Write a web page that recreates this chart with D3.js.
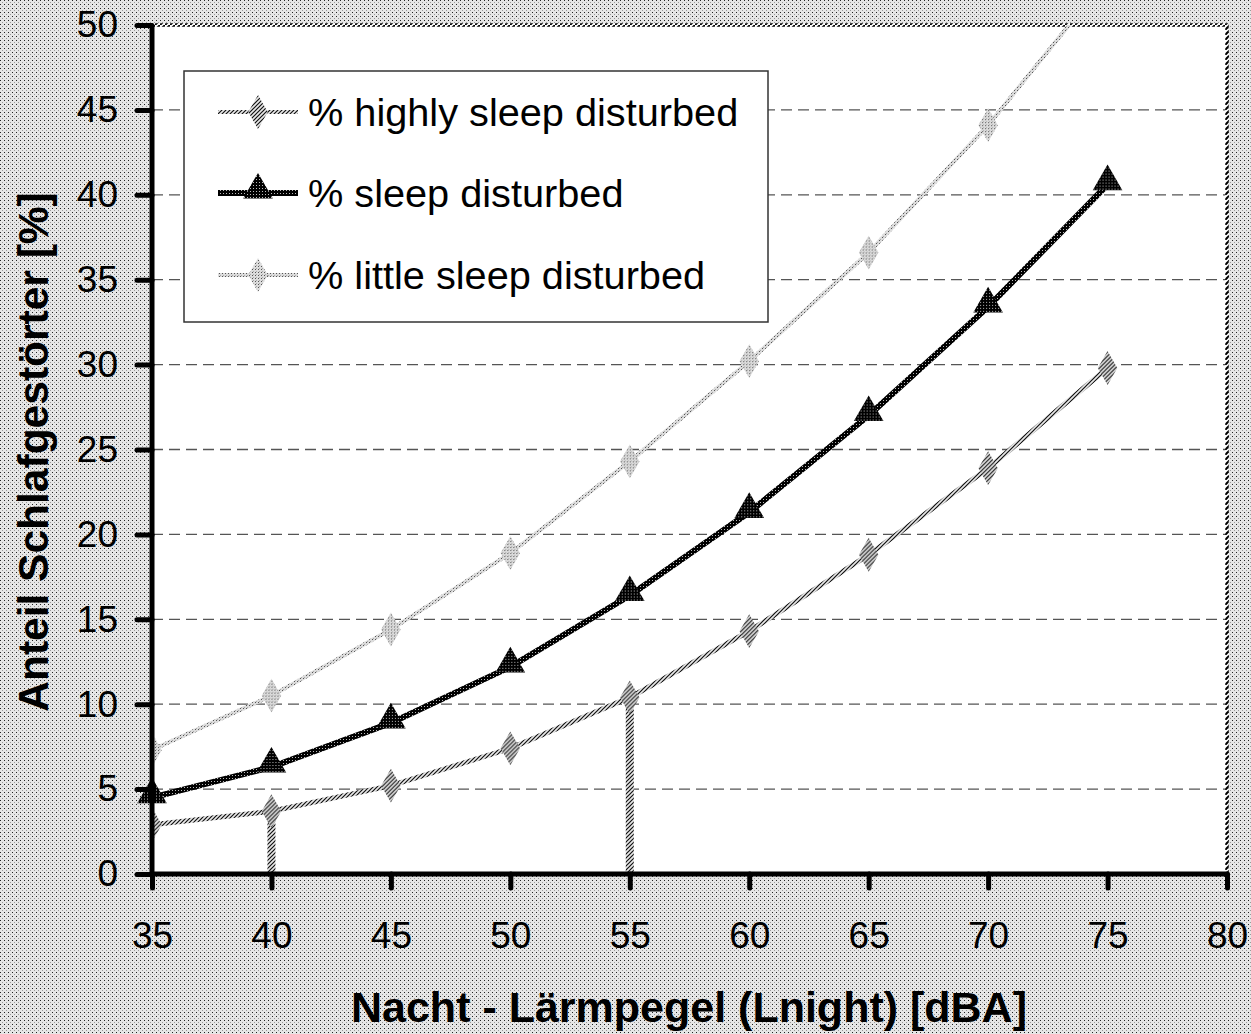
<!DOCTYPE html>
<html><head><meta charset="utf-8">
<script src="https://cdn.jsdelivr.net/npm/d3@7"></script>
<style>body{margin:0;background:#fff}svg{display:block}</style>
</head><body>
<svg id="chart" width="1251" height="1034"></svg>
<script>
const xValues = [35, 40, 45, 50, 55, 60, 65, 70, 75];
const highlyDisturbed = [2.9, 3.7, 5.2, 7.4, 10.4, 14.3, 18.8, 23.9, 29.8];
const sleepDisturbed = [4.5, 6.3, 8.9, 12.2, 16.4, 21.3, 27.0, 33.4, 40.6];
const littleDisturbed = [7.3, 10.5, 14.4, 18.9, 24.3, 30.2, 36.6, 44.1, 52.8];
const dropLinesAt = [40, 55];
const xTicks = [35, 40, 45, 50, 55, 60, 65, 70, 75, 80];
const yTicks = [0, 5, 10, 15, 20, 25, 30, 35, 40, 45, 50];
const seriesNames = ["% highly sleep disturbed", "% sleep disturbed", "% little sleep disturbed"];
const xTitle = "Nacht - Lärmpegel (Lnight) [dBA]";
const yTitle = "Anteil Schlafgestörter [%]";

(function () {
const svg = d3.select("#chart");
const FONT = "Liberation Sans, Arial, sans-serif";
const pL = 152, pR = 1227, pT = 25, pB = 874;
const x = d3.scaleLinear().domain([35, 80]).range([pL, pR]);
const y = d3.scaleLinear().domain([0, 50]).range([pB, pT]);

const defs = svg.append("defs");
const bg = defs.append("pattern").attr("id", "bg").attr("patternUnits", "userSpaceOnUse").attr("width", 4).attr("height", 4);
bg.append("rect").attr("width", 4).attr("height", 4).attr("fill", "#e6e6e6");
bg.append("rect").attr("x", 0).attr("y", 0).attr("width", 1).attr("height", 1).attr("fill", "#222");
bg.append("rect").attr("x", 2).attr("y", 2).attr("width", 1).attr("height", 1).attr("fill", "#999");
const hat = defs.append("pattern").attr("id", "hatch").attr("patternUnits", "userSpaceOnUse").attr("width", 4).attr("height", 4);
hat.append("rect").attr("width", 4).attr("height", 4).attr("fill", "#e8e8e8");
hat.append("path").attr("d", "M-1,1 L1,-1 M0,4 L4,0 M3,5 L5,3").attr("stroke", "#111").attr("stroke-width", 1.2);
const dk = defs.append("pattern").attr("id", "dark").attr("patternUnits", "userSpaceOnUse").attr("width", 3).attr("height", 3);
dk.append("rect").attr("width", 3).attr("height", 3).attr("fill", "#000");
dk.append("rect").attr("x", 1).attr("y", 1).attr("width", 1).attr("height", 1).attr("fill", "#bbb");
const lt = defs.append("pattern").attr("id", "light").attr("patternUnits", "userSpaceOnUse").attr("width", 3).attr("height", 3);
lt.append("rect").attr("width", 3).attr("height", 3).attr("fill", "#dcdcdc");
lt.append("rect").attr("x", 0).attr("y", 0).attr("width", 1).attr("height", 1).attr("fill", "#555");
lt.append("rect").attr("x", 1).attr("y", 2).attr("width", 1).attr("height", 1).attr("fill", "#aaa");
const bh = defs.append("pattern").attr("id", "bhatch").attr("patternUnits", "userSpaceOnUse").attr("width", 5).attr("height", 5);
bh.append("rect").attr("width", 5).attr("height", 5).attr("fill", "#fff");
bh.append("path").attr("d", "M0,5 L5,0").attr("stroke", "#000").attr("stroke-width", 2);

defs.append("clipPath").attr("id", "clip").append("rect")
  .attr("x", pL).attr("y", pT).attr("width", pR - pL).attr("height", pB - pT);

svg.append("rect").attr("width", 1251).attr("height", 1034).attr("fill", "url(#bg)");
svg.append("rect").attr("x", pL).attr("y", pT).attr("width", pR - pL).attr("height", pB - pT).attr("fill", "#fff");

svg.append("g").selectAll("line").data(yTicks.filter(t => t > 0 && t < 50)).join("line")
  .attr("x1", pL).attr("x2", pR).attr("y1", d => y(d)).attr("y2", d => y(d))
  .attr("stroke", "#555").attr("stroke-width", 1.3).attr("stroke-dasharray", "11,6");

svg.append("path").attr("d", `M${pL},${pT} L${pR},${pT} L${pR},${pB}`)
  .attr("fill", "none").attr("stroke", "url(#bhatch)").attr("stroke-width", 3.5);

const line = d3.line().x((d, i) => x(xValues[i])).y(d => y(d));
const plot = svg.append("g").attr("clip-path", "url(#clip)");

plot.selectAll("line.drop").data(dropLinesAt).join("line").attr("class", "drop")
  .attr("x1", d => x(d)).attr("x2", d => x(d))
  .attr("y1", d => y(highlyDisturbed[xValues.indexOf(d)])).attr("y2", y(0))
  .attr("stroke", "url(#hatch)").attr("stroke-width", 8);

const diamond = d3.symbol().type(d3.symbolDiamond).size(330);
const triangle = d3.symbol().type(d3.symbolTriangle).size(380);

plot.append("path").datum(littleDisturbed).attr("d", line).attr("fill", "none")
  .attr("stroke", "url(#light)").attr("stroke-width", 4);
plot.selectAll("path.ml").data(littleDisturbed).join("path").attr("class", "ml")
  .attr("transform", (d, i) => `translate(${x(xValues[i])},${y(d)})`).attr("d", diamond).attr("fill", "url(#light)");
plot.append("path").datum(highlyDisturbed).attr("d", line).attr("fill", "none")
  .attr("stroke", "url(#hatch)").attr("stroke-width", 5);
plot.selectAll("path.mh").data(highlyDisturbed).join("path").attr("class", "mh")
  .attr("transform", (d, i) => `translate(${x(xValues[i])},${y(d)})`).attr("d", diamond).attr("fill", "url(#hatch)");
plot.append("path").datum(sleepDisturbed).attr("d", line).attr("fill", "none")
  .attr("stroke", "url(#dark)").attr("stroke-width", 6);

svg.append("g").selectAll("path.ms").data(sleepDisturbed).join("path").attr("class", "ms")
  .attr("transform", (d, i) => `translate(${x(xValues[i])},${y(d) - 3})`).attr("d", triangle).attr("fill", "url(#dark)");

const yAxis = d3.axisLeft(y).tickValues(yTicks).tickSize(15).tickPadding(19);
const gy = svg.append("g").attr("transform", `translate(${pL},0)`).call(yAxis);
const xAxis = d3.axisBottom(x).tickValues(xTicks).tickSize(14).tickPadding(34);
const gx = svg.append("g").attr("transform", `translate(0,${pB})`).call(xAxis);
[gy, gx].forEach(g => {
  g.attr("font-size", 37).attr("font-family", FONT);
  g.select(".domain").attr("stroke", "#000").attr("stroke-width", 5);
  g.selectAll(".tick line").attr("stroke", "#000").attr("stroke-width", 5).attr("stroke-linecap", "round");
  g.selectAll(".tick text").attr("fill", "#000");
});
gy.select(".domain").attr("d", `M0,${y(50)}V${y(0)}`);
gx.select(".domain").attr("d", `M${pL},0H${pR}`);

svg.append("text").attr("x", 689).attr("y", 1022).attr("text-anchor", "middle")
  .attr("font-family", FONT).attr("font-weight", "bold").attr("font-size", 43).text(xTitle);
svg.append("text").attr("transform", `translate(48,452) rotate(-90)`).attr("text-anchor", "middle")
  .attr("font-family", FONT).attr("font-weight", "bold").attr("font-size", 42.5).text(yTitle);

const lg = svg.append("g");
lg.append("rect").attr("x", 184).attr("y", 71).attr("width", 584).attr("height", 251)
  .attr("fill", "#fff").attr("stroke", "#333").attr("stroke-width", 1.5);
const legendY = [112, 193, 275];
const lStroke = ["url(#hatch)", "url(#dark)", "url(#light)"];
const lWidth = [4, 6, 4];
seriesNames.forEach((name, i) => {
  const ly = legendY[i];
  lg.append("line").attr("x1", 218).attr("x2", 298).attr("y1", ly).attr("y2", ly)
    .attr("stroke", lStroke[i]).attr("stroke-width", lWidth[i]);
  lg.append("path").attr("transform", `translate(258,${i === 1 ? ly - 3 : ly})`)
    .attr("d", i === 1 ? triangle() : diamond()).attr("fill", lStroke[i]);
  lg.append("text").attr("x", 308).attr("y", ly + 14).attr("font-family", FONT)
    .attr("font-size", 39.7).attr("fill", "#000").text(name);
});
})();
</script>
</body></html>
